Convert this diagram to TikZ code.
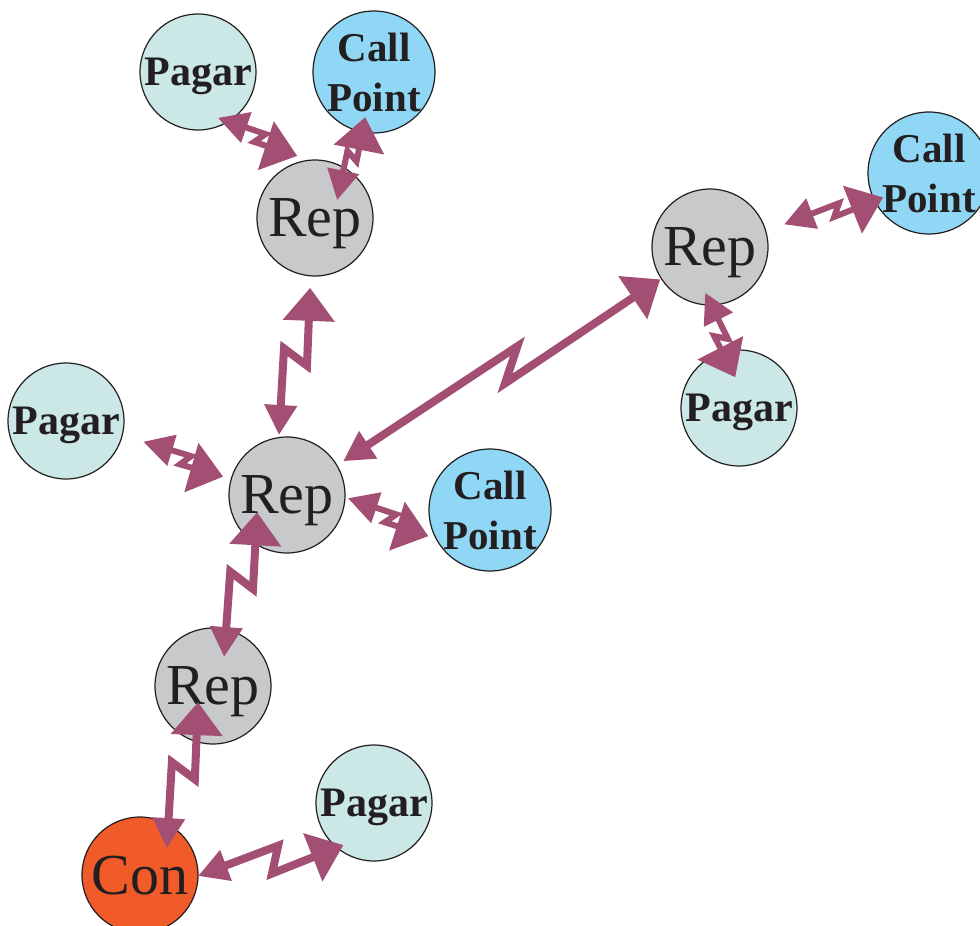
\documentclass[tikz,border=0pt]{standalone}
\usepackage{fontspec}
\setmainfont{Liberation Serif}
\usetikzlibrary{arrows.meta,calc}

\definecolor{boltc}{HTML}{A34F74}
\definecolor{pagarc}{HTML}{CBE8E6}
\definecolor{callc}{HTML}{8FD7F5}
\definecolor{repc}{HTML}{C8C9CB}
\definecolor{conc}{HTML}{F15A29}
\definecolor{inkc}{HTML}{231F20}

\tikzset{
  site/.style={circle, draw=inkc, line width=1.2pt, minimum size=116pt, inner sep=0pt,
    text=inkc, text depth=0pt, align=center},
  pagar/.style={site, fill=pagarc, font=\fontsize{42}{50}\selectfont\bfseries},
  callpt/.style={site, fill=callc, font=\fontsize{41}{50}\selectfont\bfseries},
  rep/.style={site, fill=repc, font=\fontsize{58}{60}\selectfont},
  con/.style={site, fill=conc, font=\fontsize{58}{60}\selectfont},
  zig/.store in=\zz,
  bolt/.style={draw=boltc, line width=8pt, zig=13pt, miter limit=4,
    {Triangle[length=30pt,width=31pt]}-{Triangle[length=33pt,width=50pt]}},
  boltthin/.style={bolt, line width=6pt, zig=6pt},
}

% lightning link: node, offset at start -- node, offset at end
\newcommand{\zap}[5][]{%
  \path ($(#2.center)+(#3)$) coordinate (za) ($(#4.center)+(#5)$) coordinate (zb);
  \draw[bolt,#1] (za) -- ($(za)!.57!(zb)!\zz!90:(zb)$)
    -- ($(za)!.49!(zb)!\zz!-90:(zb)$) -- (zb);
}

\begin{document}
\begin{tikzpicture}[x=1pt, y=-1pt]
  \useasboundingbox (0,0) rectangle (980,926);
  \clip (0,0) rectangle (980,926);

  % cac nut
  \node[pagar]  (pagarT) at (198,72)  {Pagar};
  \node[callpt] (cpT)    at (374,72)  {Call\\Point};
  \node[rep]    (repT)   at (315,218) {Rep};
  \node[callpt] (cpR)    at (929,173) {Call\\Point};
  \node[rep]    (repR)   at (710,247) {Rep};
  \node[pagar]  (pagarR) at (739,408) {Pagar};
  \node[pagar]  (pagarL) at (66,421)  {Pagar};
  \node[rep]    (repM)   at (287,495) {Rep};
  \node[callpt] (cpM)    at (490,510) {Call\\Point};
  \node[rep]    (repL)   at (213,686) {Rep};
  \node[pagar]  (pagarB) at (374,803) {Pagar};
  \node[con]    (con)    at (140,875) {Con};

  % lien ket
  \zap[boltthin]{pagarT}{66.5:50}{repT}{-106:64.6}
  \zap[boltthin]{repT}{-39:28.4}{cpT}{101:46}
  \zap{repM}{-97.6:60.5}{repT}{94:70}
  \zap{repM}{-31:65.5}{repR}{147:59.4}
  \zap[boltthin]{repM}{3:61}{cpM}{157:67}
  \zap[boltthin]{pagarL}{15:80}{repM}{-164:66.5}
  \zap[boltthin]{repR}{-17:77.5}{cpR}{152:52}
  \zap[boltthin]{repR}{96:46}{pagarR}{-97:31}
  \zap{repL}{-69:31}{repM}{150:34.5}
  \zap{con}{-45:38}{repL}{133:22}
  \zap{con}{1:58}{pagarB}{126:52}
\end{tikzpicture}
\end{document}
